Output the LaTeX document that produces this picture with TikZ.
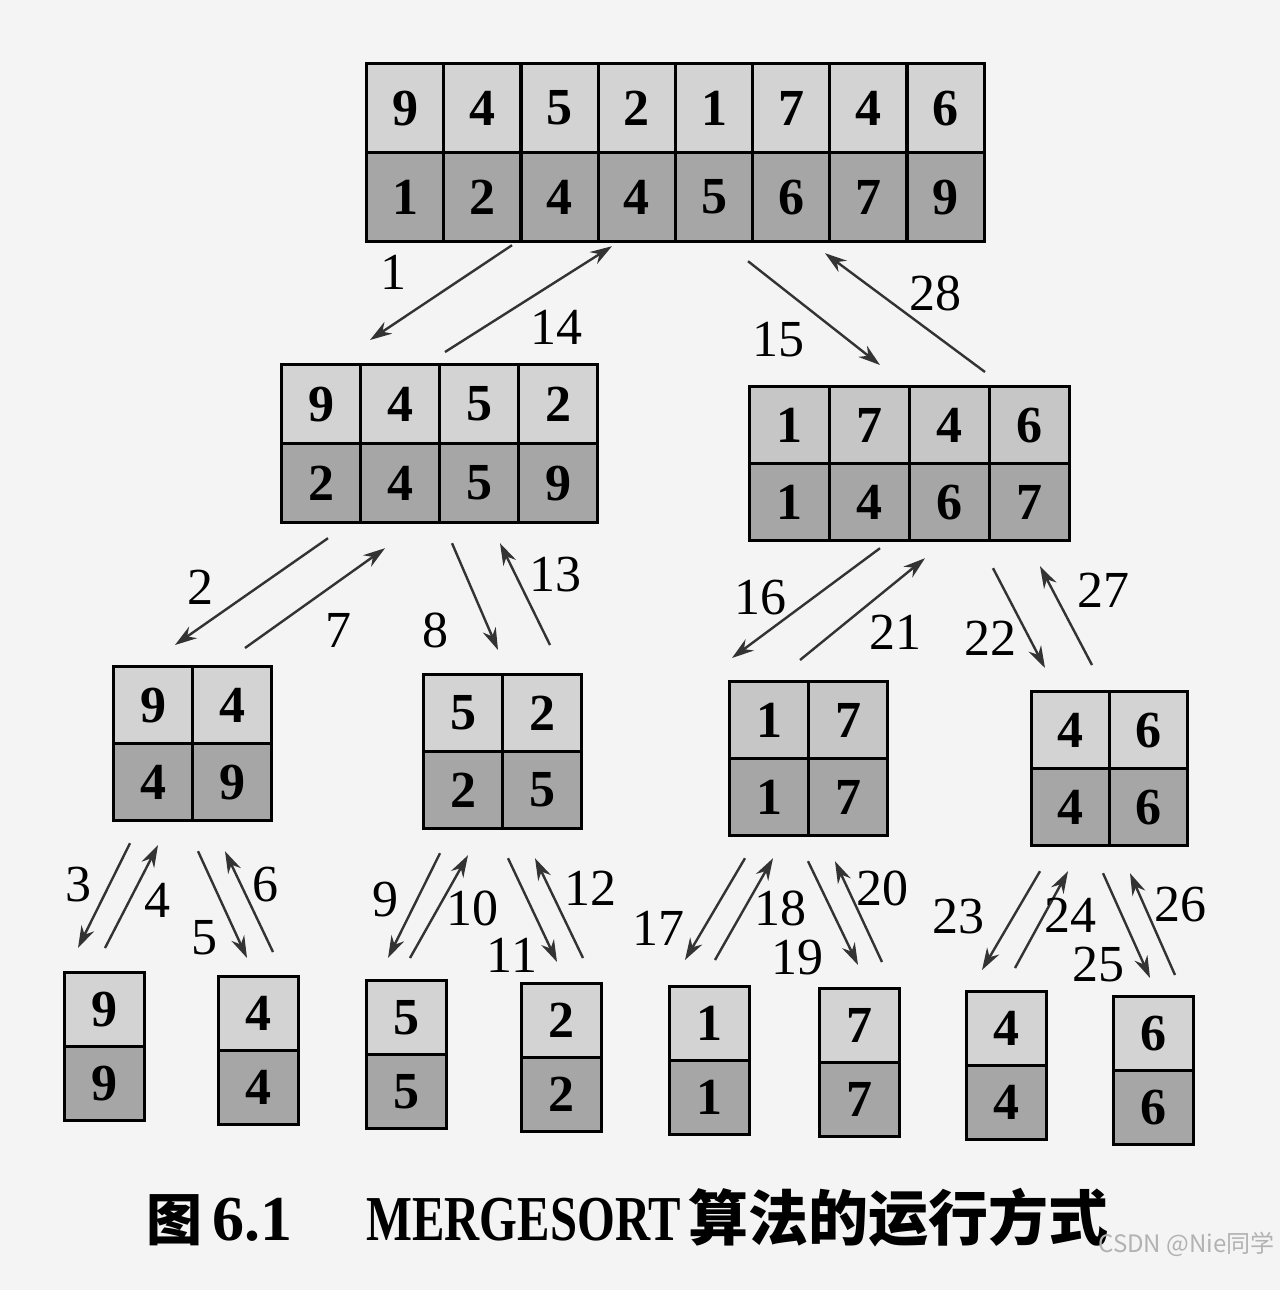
\documentclass[tikz,border=0pt]{standalone}
\usepackage{fontspec}
\setmainfont{Liberation Serif}
\newfontfamily\cjkfont{Noto Sans CJK SC}
\usetikzlibrary{matrix,arrows.meta}
\definecolor{light}{HTML}{D3D3D3}
\definecolor{dark}{HTML}{A6A6A6}
\definecolor{lightB}{HTML}{C6C6C6}
\definecolor{pagebg}{HTML}{F4F4F4}
\tikzset{
  grid/.style={matrix of nodes, column sep=-1.6pt, row sep=-1.6pt,
    inner sep=0pt, outer sep=0pt, anchor=north west,
    nodes={draw, line width=1.6pt, inner sep=0pt, font=\bfseries\fontsize{26}{26}\selectfont},
    row 1/.style={nodes={fill=light}}, row 2/.style={nodes={fill=dark}}},
  cells/.style 2 args={nodes={minimum width=#1pt, minimum height=#2pt}},
  arr/.style={draw=black!80, line width=1.2pt, -{Stealth[length=11pt,width=7pt]}},
  lab/.style={font=\fontsize{26}{26}\selectfont, inner sep=0pt},
}
\begin{document}
\begin{tikzpicture}[x=0.5pt,y=-0.5pt]
\fill[pagebg] (0,0) rectangle (1280,1290);
\useasboundingbox (0,0) rectangle (1280,1290);

% boxes
\matrix (top) [grid, cells={38.6}{44.5}] at (365,62) {9&4&5&2&1&7&4&6\\1&2&4&4&5&6&7&9\\};
\matrix (L) [grid, cells={39.5}{39.5}] at (280,363) {9&4&5&2\\2&4&5&9\\};
\matrix (R) [grid, cells={40}{38.5}, row 1/.style={nodes={fill=lightB}}] at (748,385) {1&7&4&6\\1&4&6&7\\};
\matrix (A) [grid, cells={39.5}{38.5}] at (112,665) {9&4\\4&9\\};
\matrix (B) [grid, cells={39.5}{38.5}] at (422,673) {5&2\\2&5\\};
\matrix (C) [grid, cells={39.5}{38.5}, row 1/.style={nodes={fill=lightB}}] at (728,680) {1&7\\1&7\\};
\matrix (D) [grid, cells={39}{38.5}] at (1030,690) {4&6\\4&6\\};
\matrix (l1) [grid, cells={40}{37}] at (63,971) {9\\9\\};
\matrix (l2) [grid, cells={40}{37}] at (217,975) {4\\4\\};
\matrix (l3) [grid, cells={40}{37}] at (365,979) {5\\5\\};
\matrix (l4) [grid, cells={40}{37}] at (520,982) {2\\2\\};
\matrix (l5) [grid, cells={40}{37}] at (668,985) {1\\1\\};
\matrix (l6) [grid, cells={40}{37}] at (818,987) {7\\7\\};
\matrix (l7) [grid, cells={40}{37}] at (965,990) {4\\4\\};
\matrix (l8) [grid, cells={40}{37}] at (1112,995) {6\\6\\};

% arrows level 1
\draw[arr] ([shift={(147,2)}]top.south west) -- ([shift={(90,-23)}]L.north west);
\draw[arr] ([shift={(165,-11)}]L.north west) -- ([shift={(247,3)}]top.south west);
\draw[arr] ([shift={(383,18)}]top.south west) -- ([shift={(132,-20)}]R.north west);
\draw[arr] ([shift={(237,-13)}]R.north west) -- ([shift={(460,10)}]top.south west);
% level 2
\draw[arr] ([shift={(48,14)}]L.south west) -- ([shift={(63,-20)}]A.north west);
\draw[arr] ([shift={(133,-17)}]A.north west) -- ([shift={(105,24)}]L.south west);
\draw[arr] ([shift={(172,19)}]L.south west) -- ([shift={(76,-23)}]B.north west);
\draw[arr] ([shift={(128,-28)}]B.north west) -- ([shift={(220,19)}]L.south west);
\draw[arr] ([shift={(132,6)}]R.south west) -- ([shift={(4,-22)}]C.north west);
\draw[arr] ([shift={(72,-20)}]C.north west) -- ([shift={(177,16)}]R.south west);
\draw[arr] ([shift={(245,26)}]R.south west) -- ([shift={(15,-22)}]D.north west);
\draw[arr] ([shift={(62,-25)}]D.north west) -- ([shift={(292,24)}]R.south west);
% level 3
\draw[arr] ([shift={(18,21)}]A.south west) -- ([shift={(15,-23)}]l1.north west);
\draw[arr] ([shift={(42,-23)}]l1.north west) -- ([shift={(46,23)}]A.south west);
\draw[arr] ([shift={(86,29)}]A.south west) -- ([shift={(30,-17)}]l2.north west);
\draw[arr] ([shift={(56,-23)}]l2.north west) -- ([shift={(113,29)}]A.south west);
\draw[arr] ([shift={(18,23)}]B.south west) -- ([shift={(23,-21)}]l3.north west);
\draw[arr] ([shift={(45,-21)}]l3.north west) -- ([shift={(46,25)}]B.south west);
\draw[arr] ([shift={(86,28)}]B.south west) -- ([shift={(37,-20)}]l4.north west);
\draw[arr] ([shift={(63,-24)}]l4.north west) -- ([shift={(113,28)}]B.south west);
\draw[arr] ([shift={(17,21)}]C.south west) -- ([shift={(17,-25)}]l5.north west);
\draw[arr] ([shift={(47,-25)}]l5.north west) -- ([shift={(45,21)}]C.south west);
\draw[arr] ([shift={(80,24)}]C.south west) -- ([shift={(40,-22)}]l6.north west);
\draw[arr] ([shift={(64,-25)}]l6.north west) -- ([shift={(107,24)}]C.south west);
\draw[arr] ([shift={(10,24)}]D.south west) -- ([shift={(17,-20)}]l7.north west);
\draw[arr] ([shift={(50,-22)}]l7.north west) -- ([shift={(38,24)}]D.south west);
\draw[arr] ([shift={(73,26)}]D.south west) -- ([shift={(38,-17)}]l8.north west);
\draw[arr] ([shift={(63,-20)}]l8.north west) -- ([shift={(100,26)}]D.south west);

% labels
\node[lab] (n1) at (393,272) {1};
\node[lab] (n14) at (556,327) {14};
\node[lab] (n15) at (778,340) {15};
\node[lab] (n28) at (935,293) {28};
\node[lab] (n2) at (200,587) {2};
\node[lab] (n7) at (338,630) {7};
\node[lab] (n8) at (435,630) {8};
\node[lab] (n13) at (555,575) {13};
\node[lab] (n16) at (760,598) {16};
\node[lab] (n21) at (895,632) {21};
\node[lab] (n22) at (990,638) {22};
\node[lab] (n27) at (1103,590) {27};
\node[lab] (n3) at (78,885) {3};
\node[lab] (n4) at (157,900) {4};
\node[lab] (n5) at (204,938) {5};
\node[lab] (n6) at (265,885) {6};
\node[lab] (n9) at (385,900) {9};
\node[lab] (n10) at (472,908) {10};
\node[lab] (n11) at (512,955) {11};
\node[lab] (n12) at (590,888) {12};
\node[lab] (n17) at (658,928) {17};
\node[lab] (n18) at (780,908) {18};
\node[lab] (n19) at (797,958) {19};
\node[lab] (n20) at (882,888) {20};
\node[lab] (n23) at (958,917) {23};
\node[lab] (n24) at (1070,915) {24};
\node[lab] (n25) at (1098,965) {25};
\node[lab] (n26) at (1180,905) {26};

% caption
\node[anchor=base west, inner sep=0pt, font=\cjkfont\bfseries\fontsize{28}{28}\selectfont] (capfig) at (146,1240) {图};
\node[anchor=base west, inner sep=0pt, font=\bfseries\fontsize{32}{32}\selectfont] (capnum) at (212,1240) {6.1};
\node[anchor=base west, inner sep=0pt, font=\bfseries\fontsize{32}{32}\selectfont] (capname) at (366,1240) {\scalebox{0.76}[1]{MERGESORT}};
\node[anchor=base west, inner sep=0pt, font=\cjkfont\bfseries\fontsize{30}{30}\selectfont] (captext) at (688,1240) {算法的运行方式};
\node[anchor=base east, inner sep=0pt, text=black!30, font=\cjkfont\fontsize{12}{12}\selectfont] (wm) at (1275,1252) {CSDN @Nie同学};
\end{tikzpicture}
\end{document}
